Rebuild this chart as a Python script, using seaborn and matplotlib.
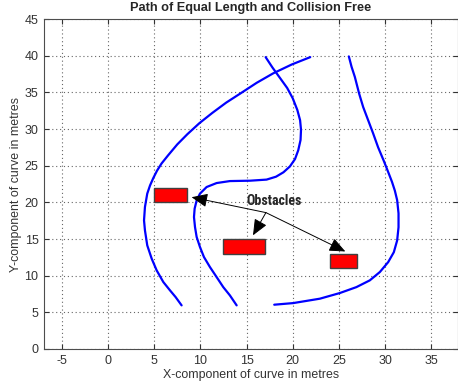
import numpy as np
import pandas as pd
import matplotlib
matplotlib.use("Agg")
import matplotlib.pyplot as plt
from matplotlib.patches import Rectangle
import seaborn as sns

# path 1 (outer left curve)
path1_x = [7.97, 7.32, 6.71, 5.99, 5.27, 4.73, 4.25, 4.0, 3.9, 4.0, 4.25, 4.55,
           4.9, 5.3, 5.8, 6.5, 7.5, 8.6, 9.9, 11.3, 12.8, 14.4, 16.1, 17.9, 19.9, 21.9]
path1_y = [5.95, 7.08, 8.0, 9.13, 10.72, 12.32, 14.13, 16.18, 17.54, 19.36, 21.19, 22.3,
           23.3, 24.3, 25.3, 26.4, 27.9, 29.3, 30.8, 32.2, 33.6, 34.9, 36.3, 37.6, 38.8, 39.8]

# path 2 (middle S-shaped curve)
path2_x = [13.93, 13.2, 12.48, 11.76, 11.04, 10.39, 9.96, 9.6, 9.42, 9.31, 9.38, 9.6, 9.96,
           10.68, 11.76, 13.2, 15.37, 17.17, 18.2, 19.0, 19.7, 20.25, 20.6, 20.85, 20.9,
           20.8, 20.5, 20.0, 19.4, 18.6, 17.8, 17.07]
path2_y = [5.95, 7.31, 8.44, 9.81, 11.17, 12.54, 13.9, 15.27, 16.63, 17.99, 19.14, 20.27, 21.19,
           22.09, 22.63, 22.9, 22.95, 23.1, 23.5, 24.1, 24.9, 25.9, 27.1, 28.5, 29.9,
           31.2, 32.6, 34.2, 35.6, 37.0, 38.4, 39.8]

# path 3 (right curve)
path3_x = [18.0, 20.05, 22.94, 25.1, 26.9, 28.35, 29.44, 30.34, 30.95, 31.31, 31.46, 31.46,
           31.31, 31.06, 30.75, 30.35, 29.85, 29.25, 28.71, 28.17, 27.63, 27.2, 26.73, 26.37, 26.08]
path3_y = [6.04, 6.26, 6.86, 7.63, 8.44, 9.36, 10.5, 11.85, 13.2, 14.8, 16.6, 18.5,
           20.3, 21.6, 22.8, 24.1, 25.7, 27.5, 29.4, 31.2, 33.0, 34.8, 37.1, 38.5, 39.9]

# obstacles: lower-left corner, width, height
obs_x = [5.0, 12.5, 24.0]
obs_y = [20.0, 13.0, 11.0]
obs_w = [3.5, 4.5, 3.0]
obs_h = [2.0, 2.0, 2.0]

# annotation
label_pos = (18.0, 20.2)
arrow_tail = (17.1, 18.6)
arrow_heads = [(9.05, 20.7), (15.7, 15.5), (25.7, 13.3)]

xticks = list(range(-5, 40, 5))
yticks = list(range(0, 50, 5))

sns.set_style("ticks")
plt.rcParams['font.family'] = ['Liberation Sans', 'DejaVu Sans']
plt.rcParams['axes.unicode_minus'] = False

frames = []
for i, (xs, ys) in enumerate([(path1_x, path1_y), (path2_x, path2_y), (path3_x, path3_y)]):
    frames.append(pd.DataFrame({'x': xs, 'y': ys, 'path': i}))
df = pd.concat(frames, ignore_index=True)

fig = plt.figure(figsize=(4.58, 3.92), dpi=100)
ax = fig.add_axes([0.0961, 0.1097, 0.9039, 0.8418])

for p, sub in df.groupby('path'):
    sns.lineplot(data=sub, x='x', y='y', sort=False, estimator=None, color='#0000ff',
                 linewidth=1.6, ax=ax, zorder=3)

for x0, y0, w, h in zip(obs_x, obs_y, obs_w, obs_h):
    ax.add_patch(Rectangle((x0, y0), w, h, facecolor='#ff0000', edgecolor='#404040',
                           linewidth=1.0, zorder=4))

ax.text(label_pos[0], label_pos[1], 'Obstacles', ha='center', va='center', fontsize=10,
        fontweight='bold', fontstretch='condensed',
        family=['Roboto Condensed', 'Roboto', 'DejaVu Sans'], zorder=5)
for head in arrow_heads:
    ax.annotate('', xy=head, xytext=arrow_tail,
                arrowprops=dict(arrowstyle='-|>,head_length=0.7,head_width=0.3', color='black',
                                lw=0.7, mutation_scale=14, shrinkA=0, shrinkB=0), zorder=5)

ax.set_xlim(-6.93, 37.9)
ax.set_ylim(0, 45)
ax.set_xticks(xticks)
ax.set_yticks(yticks)
ax.grid(True, linestyle=(0, (1, 2.5)), color='0.4', linewidth=0.8)
ax.tick_params(direction='in', top=True, right=True, length=3.5, labelsize=9,
               colors='0.2', pad=4)
for s in ax.spines.values():
    s.set_color('0.3')
    s.set_linewidth(0.8)

ax.set_xlabel('X-component of curve in metres', fontsize=8.9, color='0.2', labelpad=2)
ax.set_ylabel('Y-component of curve in metres', fontsize=8.9, color='0.2', labelpad=2)
ax.set_title('Path of Equal Length and Collision Free', fontsize=9.2, fontweight='bold', pad=6)

fig.savefig('out.png', dpi=100)
